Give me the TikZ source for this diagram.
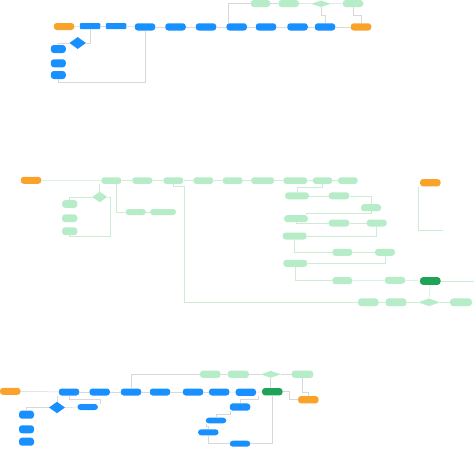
\documentclass[tikz,border=0pt]{standalone}
\usetikzlibrary{shapes.geometric}
\definecolor{flowblue}{RGB}{24,144,255}
\definecolor{flowgreen}{RGB}{183,236,200}
\definecolor{darkgreen}{RGB}{31,163,86}
\definecolor{flowamber}{RGB}{250,163,42}
\definecolor{edgegray}{RGB}{216,216,216}
\definecolor{edgegreen}{RGB}{204,236,212}

\begin{document}
\begin{tikzpicture}[x=1pt, y=-1pt,
  box/.style={rounded corners=3pt, inner sep=0pt, minimum height=7pt, minimum width=20.5pt},
  bluebox/.style={box, fill=flowblue},
  greenbox/.style={box, fill=flowgreen},
  startbox/.style={box, fill=flowamber},
  donebox/.style={box, fill=darkgreen},
  choice/.style={diamond, inner sep=0pt, minimum width=16pt, minimum height=11.6pt},
  link/.style={edgegray, line width=0.5pt},
  glink/.style={edgegreen, line width=0.5pt}]
  \fill[white] (0,0) rectangle (474,448);
  \useasboundingbox (0,0) rectangle (474,448);

  % first flow
  \node[startbox] (p1) at (64,26.5) {};
  \foreach \n/\x in {2/90, 3/116} {
    \node[bluebox, rounded corners=1pt, minimum height=6pt] (p\n) at (\x,26.2) {};
  }
  \foreach \n/\x in {4/145, 5/175.5, 6/206, 7/236.7, 8/266, 9/297.5, 10/325} {
    \node[bluebox, minimum height=7.3pt] (p\n) at (\x,26.9) {};
  }
  \node[startbox, minimum height=7.3pt] (p11) at (361,26.9) {};
  \node[choice, fill=flowblue, minimum width=16.7pt, minimum height=12pt] (pd) at (77.7,43) {};
  \foreach \n/\y in {1/49, 2/63.3, 3/75} {
    \node[bluebox, minimum width=15pt, minimum height=8pt] (pl\n) at (58.3,\y) {};
  }
  \node[greenbox, minimum width=19.5pt, minimum height=7pt] (pg1) at (260.5,3.5) {};
  \node[greenbox, minimum height=7pt] (pg2) at (288.7,3.5) {};
  \node[choice, fill=flowgreen, minimum width=20pt, minimum height=6.5pt] (pgd) at (321,3.8) {};
  \node[greenbox, minimum height=7pt] (pg4) at (353,3.5) {};

  \foreach \a/\b in {1/2, 2/3, 3/4, 4/5, 5/6, 6/7, 7/8, 8/9, 9/10, 10/11} {
    \draw[link] (p\a) -- (p\b);
  }
  \draw[link] (pd.east) -| (p2.south);
  \draw[link] (pd.west) -| (pl1.north);
  \draw[link] (p4.south) -- ++(0,51) -| (pl3.south);
  \draw[link] ([xshift=-8pt]p7.north) |- (pg1.west);
  \draw[link] (pg1) -- (pg2);
  \draw[link] (pg2) -- (pgd);
  \draw[link] (pgd) -- (pg4);
  \draw[link] (pgd.south) -- ++(0,8) -| (p10.north);
  \draw[link] (pg4.south) -- ++(0,8) -| (p11.north);

  % second flow
  \node[startbox, minimum height=7pt] (q1) at (31,180.3) {};
  \foreach \n/\x/\w in {2/111.3/20, 3/142.3/20, 4/173.3/20, 5/203.3/20, 6/232.7/20,
                        7/262.7/23, 8/295.3/24, 9/322.5/19.5, 10/347.8/19.7} {
    \node[greenbox, minimum width=\w pt, minimum height=6.7pt] (q\n) at (\x,180.6) {};
  }
  \node[choice, fill=flowgreen, minimum width=15.3pt, minimum height=10.6pt] (qd) at (99.7,197) {};
  \foreach \n/\y in {1/204, 2/218.3, 3/231.3} {
    \node[greenbox, minimum width=15.3pt, minimum height=7.7pt] (ql\n) at (69.7,\y) {};
  }
  \node[greenbox, minimum height=6pt] (qb1) at (135.7,212) {};
  \node[greenbox, minimum width=26pt, minimum height=6pt] (qb2) at (163,212) {};

  \foreach \n/\x/\y/\w in {1/297/195.8/23.7, 2/339/195.8/20.6, 3/371/207.7/20,
                           4/296/218.7/23.7, 5/339/223/20.6, 6/376.7/223/20,
                           7/294.7/236/24, 8/342.3/252.3/20, 9/385/252.3/20,
                           10/295.3/263.3/24, 11/342.3/280.7/20, 12/395/280.3/20.3} {
    \node[greenbox, minimum width=\w pt, minimum height=7pt] (qc\n) at (\x,\y) {};
  }
  \node[donebox, minimum height=7.7pt] (qc13) at (430.3,281) {};
  \node[startbox, minimum height=7.3pt] (q11) at (430.3,182.7) {};
  \node[greenbox, minimum height=7.7pt] (qe1) at (368.3,302.3) {};
  \node[greenbox, minimum width=21pt, minimum height=7.7pt] (qe2) at (396,302.3) {};
  \node[choice, fill=flowgreen, minimum width=21.7pt, minimum height=7.7pt] (qed) at (429,302.3) {};
  \node[greenbox, minimum width=21.7pt, minimum height=7.7pt] (qe3) at (461,302.3) {};
  \coordinate (qout) at (474,281);
  \coordinate (qend) at (443.3,230);

  \foreach \a/\b in {1/2, 2/3, 3/4, 4/5, 5/6, 6/7, 7/8, 8/9, 9/10} {
    \draw[glink] (q\a) -- (q\b);
  }
  \draw[glink] (qd.north) -- (qd.north |- q2.south);
  \draw[glink] (qd.west) -| (ql1.north);
  \draw[glink] (qd.east) -- ++(2.7,0) |- (69.7,236.7) -- (ql3.south);
  \draw[glink] ([xshift=5pt]q2.south) |- (qb1.west);
  \draw[glink] (qb1) -- (qb2);
  \draw[glink] (q4.south) -- ++(0,2) -- ++(11,0) |- (qe1.west);
  \draw[glink] (q9.south) -- ++(0,3.5) -| (qc1.north);
  \draw[glink] (qc1) -- (qc2);
  \draw[glink] (qc2.east) -| (qc3.north);
  \draw[glink] (qc3.south) -- ++(0,1.5) -| ([xshift=-2pt]qc4.north east);
  \draw[glink] (qc4.south) |- (qc5.west);
  \draw[glink] (qc5) -- (qc6);
  \draw[glink] (qc6.south) |- (qc7.east);
  \draw[glink] (qc7.south) |- (qc8.west);
  \draw[glink] (qc8) -- (qc9);
  \draw[glink] (qc9.south) |- (qc10.east);
  \draw[glink] (qc10.south) |- (qc11.west);
  \draw[glink] (qc11) -- (qc12);
  \draw[glink] (qc12) -- (qc13);
  \draw[glink] (qc13) -- (qout);
  \draw[glink] (qc13.south) -- (qed.north);
  \draw[glink] (qe1) -- (qe2);
  \draw[glink] (qe2) -- (qed);
  \draw[glink] (qed) -- (qe3);
  \draw[glink] ([xshift=-2pt]q11.south west) |- (qend);

  % third flow
  \node[startbox] (r1) at (10.3,391.3) {};
  \foreach \n/\x in {2/69, 3/99.7, 4/131, 5/160, 6/193, 7/219.2} {
    \node[bluebox] (r\n) at (\x,392) {};
  }
  \node[bluebox, minimum height=7.3pt] (r8) at (245.8,392.3) {};
  \node[donebox, minimum height=7.3pt] (r9) at (272.3,391.7) {};
  \node[startbox, minimum height=7.3pt] (r10) at (308.3,399.7) {};
  \node[choice, fill=flowblue] (rd) at (57,407.5) {};
  \node[bluebox, minimum height=6pt] (re) at (87.7,407) {};
  \foreach \n/\y in {1/414.7, 2/429.3, 3/441.7} {
    \node[bluebox, minimum width=15pt, minimum height=8pt] (rl\n) at (26.5,\y) {};
  }
  \node[greenbox, minimum height=7.3pt] (rg1) at (210.3,374.3) {};
  \node[greenbox, minimum width=21.3pt, minimum height=7.3pt] (rg2) at (238.3,374.3) {};
  \node[choice, fill=flowgreen, minimum width=20pt, minimum height=7pt] (rgd) at (270.7,374.3) {};
  \node[greenbox, minimum width=21.6pt, minimum height=7.3pt] (rg3) at (302.5,374.3) {};
  \node[bluebox, minimum height=7.3pt] (rc1) at (240,407) {};
  \node[bluebox, minimum height=5.6pt] (rc2) at (216,420.5) {};
  \node[bluebox, minimum height=6pt] (rc3) at (208.3,432.3) {};
  \node[bluebox, minimum height=6pt] (rc4) at (240,443.7) {};

  \foreach \a/\b in {1/2, 2/3, 3/4, 4/5, 5/6, 6/7, 7/8, 8/9} {
    \draw[link] (r\a) -- (r\b);
  }
  \draw[link] (rd.north) -- (rd.north |- r2.south);
  \draw[link] (rd.west) -| (rl1.north);
  \draw[link] (rd) -- (re);
  \draw[link] (r2.south) -- ++(0,4) -| ([xshift=2pt]re.north east);
  \draw[link] (r4.north) |- (rg1.west);
  \draw[link] (rg1) -- (rg2);
  \draw[link] (rg2) -- (rgd);
  \draw[link] (rgd) -- (rg3);
  \draw[link] (rgd.south) -- (rgd.south |- r9.north);
  \draw[link] (rg3.south) -- ++(0,13.7) -| (r10.north);
  \draw[link] (r9.east) -- ++(6,0) |- (r10.west);
  \draw[link] ([xshift=2pt]r8.south east) -- ++(0,3.3) -| (rc1.north);
  \draw[link] ([xshift=1pt]rc1.south west) -- ++(0,3) -| (rc2.north);
  \draw[link] ([xshift=1pt]rc2.south west) -- ++(0,3) -| (rc3.north);
  \draw[link] (rc3.south) |- (rc4.west);
  \draw[link] (r9.south) |- (rc4.east);
\end{tikzpicture}
\end{document}
